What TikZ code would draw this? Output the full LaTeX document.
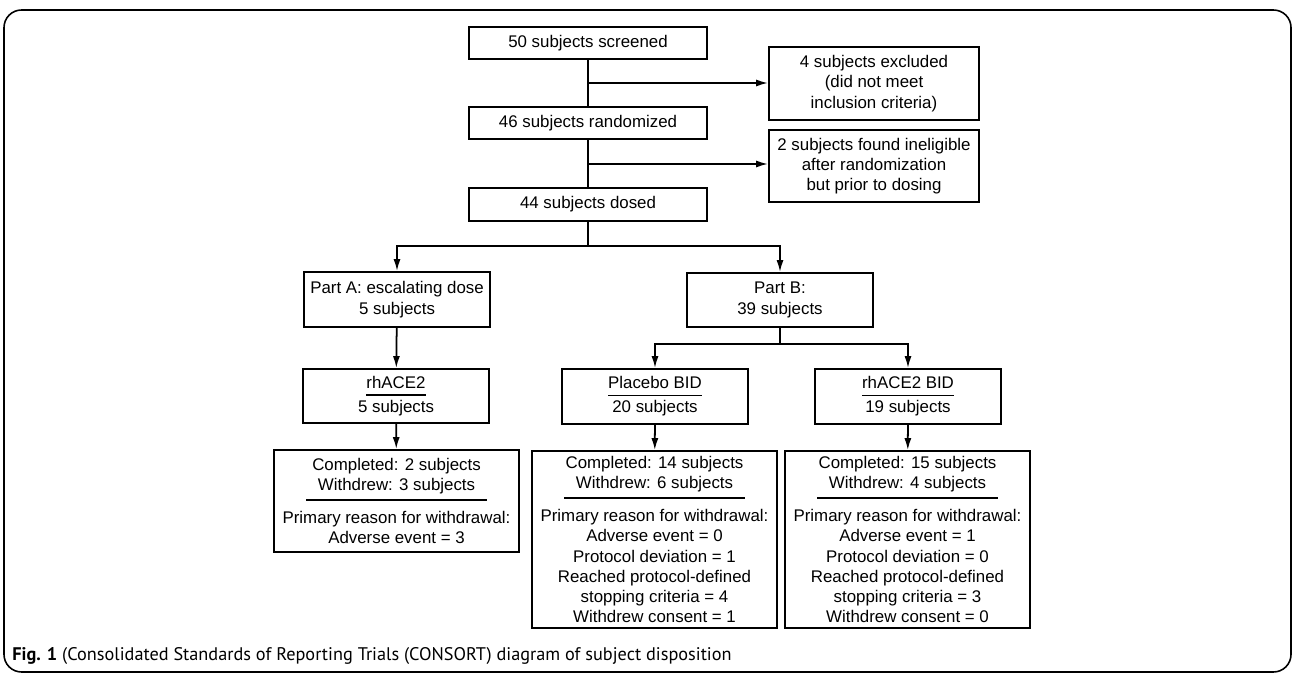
\documentclass[tikz,border=0pt]{standalone}
\usepackage{fontspec}
\setmainfont{Liberation Sans}
\newfontfamily\capfont{PT Sans}
\usepackage{tikz}
\usetikzlibrary{arrows.meta,positioning,calc}

\newcommand{\armhead}[1]{\setbox0\hbox{#1}\rlap{\rule[-4.2pt]{\wd0}{1pt}}\box0}
\newcommand{\splitrule}{\\[-4.3pt]\rule[1.4pt]{3.62cm}{1pt}\\}

\begin{document}
\begin{tikzpicture}[x=0.02cm, y=-0.02cm,
    box/.style={draw, line width=1pt, align=center, inner sep=0pt,
      font=\fontsize{9.6pt}{11.55pt}\selectfont},
    arr/.style={line width=1pt, -{Latex[length=0.24cm,width=0.14cm]}},
    link/.style={line width=1pt}]
   \useasboundingbox (0,0) rectangle (1295,678);
   \draw[line width=0.9pt, rounded corners=10pt] (4,10) rectangle (1291,672);

   \node[box, minimum width=4.76cm, minimum height=0.64cm] (screened) at (588,43) {50 subjects screened};
   \node[box, minimum width=4.76cm, minimum height=0.64cm] (randomized) at (588,123) {46 subjects randomized};
   \node[box, minimum width=4.76cm, minimum height=0.66cm] (dosed) at (588,204.5) {44 subjects dosed};
   \node[box, minimum width=4.2cm, minimum height=1.46cm] (excluded) at (874,83.5)
     {4 subjects excluded\\(did not meet\\inclusion criteria)};
   \node[box, minimum width=4.2cm, minimum height=1.44cm] (ineligible) at (874,166)
     {2 subjects found ineligible\\after randomization\\but prior to dosing};

   \node[box, minimum width=3.72cm, minimum height=1.1cm] (partA) at (397,299.5) {Part A: escalating dose\\5 subjects};
   \node[box, minimum width=3.72cm, minimum height=1.08cm] (partB) at (780,300) {Part B:\\39 subjects};

   \node[box, minimum width=3.72cm, minimum height=1.08cm] (armA) at (396,396) {\armhead{rhACE2}\\[2pt]5 subjects};
   \node[box, minimum width=3.72cm, minimum height=1.1cm] (placebo) at (655,396.5) {\armhead{Placebo BID}\\[2pt]20 subjects};
   \node[box, minimum width=3.72cm, minimum height=1.1cm] (armB) at (908,396.5) {\armhead{rhACE2 BID}\\[2pt]19 subjects};

   \node[box, minimum width=4.9cm, minimum height=2.04cm] (outA) at (396.5,501)
     {Completed: 2 subjects\\Withdrew: 3 subjects\splitrule
      Primary reason for withdrawal:\\Adverse event = 3};
   \node[box, minimum width=4.9cm, minimum height=3.54cm] (outP) at (654.5,539.5)
     {Completed: 14 subjects\\Withdrew: 6 subjects\splitrule
      Primary reason for withdrawal:\\Adverse event = 0\\Protocol deviation = 1\\
      Reached protocol-defined\\stopping criteria = 4\\Withdrew consent = 1};
   \node[box, minimum width=4.9cm, minimum height=3.54cm] (outB) at (907.5,539.5)
     {Completed: 15 subjects\\Withdrew: 4 subjects\splitrule
      Primary reason for withdrawal:\\Adverse event = 1\\Protocol deviation = 0\\
      Reached protocol-defined\\stopping criteria = 3\\Withdrew consent = 0};

   \coordinate (exA) at (588,83);
   \coordinate (exB) at (588,164);
   \coordinate (split) at (588,246);
   \coordinate (splitB) at (780,344);

   \draw[link] (screened) -- (randomized);
   \draw[link] (randomized) -- (dosed);
   \draw[arr] (exA) -- (exA -| excluded.west);
   \draw[arr] (exB) -- (exB -| ineligible.west);
   \draw[link] (dosed) -- (split);
   \draw[arr] (split) -| (partA.north);
   \draw[arr] (split) -| (partB.north);
   \draw[arr] (partA) -- (armA);
   \draw[link] (partB) -- (splitB);
   \draw[arr] (splitB) -| (placebo.north);
   \draw[arr] (splitB) -| (armB.north);
   \draw[arr] (armA) -- (outA);
   \draw[arr] (placebo) -- (outP);
   \draw[arr] (armB) -- (outB);

   \node[anchor=base west, inner sep=0pt, font=\capfont\fontsize{10.4pt}{12pt}\selectfont] (caption) at (12,661)
     {\textbf{Fig. 1} (Consolidated Standards of Reporting Trials (CONSORT) diagram of subject disposition};
\end{tikzpicture}
\end{document}
